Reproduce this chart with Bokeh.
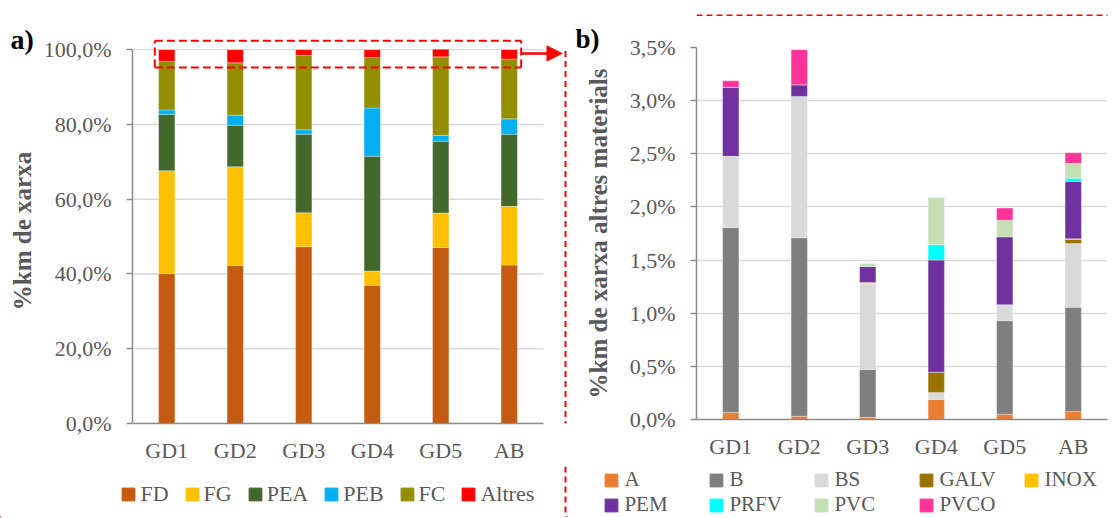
from bokeh.plotting import figure
from bokeh.layouts import row, column
from bokeh.models import (ColumnDataSource, FactorRange, Range1d, FixedTicker, Legend,
                          LegendItem, Arrow, NormalHead)
from bokeh.embed import file_html
from bokeh.resources import INLINE

# ---------------- data ----------------
categories = ["GD1", "GD2", "GD3", "GD4", "GD5", "AB"]

# panel a) : % km of network by material
FD = [40.1, 42.3, 47.3, 37.0, 47.1, 42.4]
FG = [27.5, 26.4, 9.1, 3.8, 9.2, 15.7]
PEA = [15.1, 11.1, 21.0, 30.7, 19.2, 19.3]
PEB = [1.2, 2.7, 1.2, 12.9, 1.6, 4.1]
FC = [13.0, 14.0, 19.9, 13.5, 21.0, 16.0]
Altres = [3.1, 3.5, 1.5, 2.1, 2.0, 2.5]
a_names = ["FD", "FG", "PEA", "PEB", "FC", "Altres"]
a_colors = ["#C55A11", "#FFC000", "#43682B", "#00B0F0", "#948F00", "#FF0000"]
a_ticks = [0, 20, 40, 60, 80, 100]
a_tick_labels = ["0,0%", "20,0%", "40,0%", "60,0%", "80,0%", "100,0%"]

# panel b) : % km of network, other materials
A = [0.066, 0.03, 0.02, 0.19, 0.05, 0.075]
B = [1.74, 1.68, 0.45, 0.0, 0.88, 0.98]
BS = [0.67, 1.33, 0.81, 0.065, 0.15, 0.60]
GALV = [0.0, 0.0, 0.0, 0.19, 0.0, 0.04]
INOX = [0.0, 0.0, 0.01, 0.0, 0.0, 0.005]
PEM = [0.65, 0.11, 0.15, 1.055, 0.64, 0.54]
PRFV = [0.0, 0.0, 0.0, 0.145, 0.0, 0.03]
PVC = [0.0, 0.0, 0.03, 0.445, 0.155, 0.14]
PVCO = [0.06, 0.33, 0.0, 0.0, 0.115, 0.10]
b_names = ["A", "B", "BS", "GALV", "INOX", "PEM", "PRFV", "PVC", "PVCO"]
b_colors = ["#ED7D31", "#7F7F7F", "#D9D9D9", "#997300", "#FFC000",
            "#7030A0", "#00FFFF", "#C5E0B4", "#FF3399"]
b_ticks = [0, 0.5, 1.0, 1.5, 2.0, 2.5, 3.0, 3.5]
b_tick_labels = ["0,0%", "0,5%", "1,0%", "1,5%", "2,0%", "2,5%", "3,0%", "3,5%"]

FONT = "Liberation Serif"
TXT = "#595959"
AX = "#8C8C8C"
GRID = "#D9D9D9"


def style(p, ticks, labels, title, title_standoff, panel_offset, panel_standoff, panel_size):
    p.outline_line_color = None
    p.xgrid.grid_line_color = None
    p.ygrid.grid_line_color = GRID
    p.ygrid.grid_line_width = 1.3
    p.yaxis.ticker = FixedTicker(ticks=ticks, minor_ticks=[])
    p.yaxis.major_label_overrides = dict(zip(ticks, labels))
    for ax in p.axis:
        ax.axis_line_color = AX
        ax.axis_line_width = 1.5
        ax.major_label_text_font = FONT
        ax.major_label_text_font_size = "22px"
        ax.major_label_text_color = TXT
        ax.minor_tick_line_color = None
    p.xaxis.major_tick_line_color = None
    p.xaxis.major_tick_out = 0
    p.xaxis.major_tick_in = 0
    p.xaxis.major_label_standoff = 14
    p.yaxis.major_tick_line_color = AX
    p.yaxis.major_tick_line_width = 1.3
    p.yaxis.major_tick_out = 6
    p.yaxis.major_tick_in = 0
    p.yaxis.major_label_standoff = 15
    p.yaxis.axis_label = title
    p.yaxis.axis_label_text_font = FONT
    p.yaxis.axis_label_text_font_style = "bold"
    p.yaxis.axis_label_text_font_size = "25px"
    p.yaxis.axis_label_text_color = TXT
    p.yaxis.axis_label_standoff = title_standoff
    # panel letter (a / b) as the figure title
    p.title.text_font = FONT
    p.title.text_font_style = "bold"
    p.title.text_font_size = panel_size
    p.title.text_color = "black"
    p.title.align = "left"
    p.title.offset = panel_offset
    try:
        p.title.standoff = panel_standoff
    except Exception:
        p.title.standoff = 0


def dashed_segment(p, x0, y0, x1, y1, dash="8 4"):
    p.add_layout(Arrow(end=None, start=None, x_start=x0, y_start=y0, x_end=x1, y_end=y1,
                       line_color="red", line_width=2, line_dash=dash))


def strip(width, height):
    """A bare figure whose frame fills the canvas (used for legends / frame lines)."""
    s = figure(width=width, height=height, x_range=Range1d(0, width), y_range=Range1d(0, height),
               x_axis_location=None, y_axis_location=None, output_backend="svg",
               toolbar_location=None, min_border=0, min_border_left=0, min_border_right=0,
               min_border_top=0, min_border_bottom=0)
    s.outline_line_color = None
    s.background_fill_alpha = 0
    for g in s.grid:
        g.visible = False
        g.grid_line_color = None
    return s


def legend_items(fig, names, colors):
    rs = [fig.vbar(x=[-50], top=[1], width=1, color=c) for c in colors]
    return [LegendItem(label=n, renderers=[r]) for n, r in zip(names, rs)]


# ---------------- panel a ----------------
xpos = [i + 0.5 for i in range(len(categories))]
src_a = ColumnDataSource(dict(x=xpos, FD=FD, FG=FG, PEA=PEA, PEB=PEB, FC=FC, Altres=Altres))
pa = figure(width=563, height=466, title="a)", x_range=Range1d(0, 6.292),
            y_range=Range1d(0, 103), output_backend="svg", toolbar_location=None,
            min_border_left=132, min_border_right=0, min_border_top=38, min_border_bottom=43)
pa.segment(x0=[0] * len(a_ticks), x1=[len(categories)] * len(a_ticks), y0=a_ticks, y1=a_ticks,
           line_color=GRID, line_width=1.3, level="underlay")
ra = pa.vbar_stack(a_names, x="x", width=0.238, source=src_a, color=a_colors,
                   line_color="white", line_width=0.5, line_alpha=0.6)
style(pa, a_ticks, a_tick_labels, "%km de xarxa", 5, -122, -33, "28px")
pa.ygrid.visible = False
pa.xaxis.ticker = FixedTicker(ticks=xpos, minor_ticks=[])
pa.xaxis.major_label_overrides = dict(zip(xpos, categories))
pa.xaxis.bounds = (0, len(categories))
pa.yaxis.bounds = (0, 100)

# dashed zoom box around the top of the bars + arrow to panel b
bx0, bx1, by0, by1 = 0.3255, 5.674, 95.27, 102.41
dashed_segment(pa, bx0, by1, bx1, by1)
dashed_segment(pa, bx0, by0, bx1, by0)
dashed_segment(pa, bx0, by0, bx0, by1)
dashed_segment(pa, bx1, by0, bx1, by1)
pa.add_layout(Arrow(end=NormalHead(size=15, fill_color="red", line_color="red"),
                    x_start=bx1, y_start=99.0, x_end=6.27, y_end=99.0,
                    line_color="red", line_width=2.5))

LEG_H = 51
la = strip(563, LEG_H)
la.add_layout(Legend(items=legend_items(la, a_names, a_colors), location=(120.4, 10),
                     orientation="horizontal", glyph_width=16, glyph_height=16,
                     label_standoff=4, spacing=15, padding=0, margin=0, label_height=16,
                     border_line_alpha=0, background_fill_alpha=0,
                     label_text_font=FONT, label_text_font_size="22px", label_text_color=TXT))

# ---------------- dashed frame around panel b ----------------
v1 = strip(4, 466)
dashed_segment(v1, 2, 451, 2, -10, dash="6 4")
v2 = strip(4, LEG_H)
dashed_segment(v2, 2, LEG_H + 10, 2, -10, dash="6 4")
hs = strip(541, 16)
dashed_segment(hs, 0, 1, 560, 1, dash="6 4")

# ---------------- panel b ----------------
src_b = ColumnDataSource(dict(cat=categories, A=A, B=B, BS=BS, GALV=GALV, INOX=INOX,
                              PEM=PEM, PRFV=PRFV, PVC=PVC, PVCO=PVCO))
pb = figure(width=541, height=450, title="b)", x_range=FactorRange(*categories),
            y_range=Range1d(0, 3.5), output_backend="svg", toolbar_location=None,
            min_border_left=129, min_border_right=1, min_border_top=31, min_border_bottom=47)
rb = pb.vbar_stack(b_names, x="cat", width=0.238, source=src_b, color=b_colors,
                   line_color="white", line_width=0.5, line_alpha=0.6)
style(pb, b_ticks, b_tick_labels, "%km de xarxa altres materials", 15, -121, -13, "27px")

lb = strip(541, LEG_H)
lb.add_layout(Legend(items=legend_items(lb, b_names, b_colors), location=(36.4, 0),
                     orientation="horizontal", ncols=5,
                     glyph_width=16, glyph_height=16, label_standoff=5, spacing=0,
                     padding=0, margin=0, label_width=84, label_height=16,
                     border_line_alpha=0, background_fill_alpha=0,
                     label_text_font=FONT, label_text_font_size="21px", label_text_color=TXT))

layout = column(row(pa, v1, column(hs, pb)), row(la, v2, lb))
open("out.html", "w").write(file_html(layout, INLINE))
